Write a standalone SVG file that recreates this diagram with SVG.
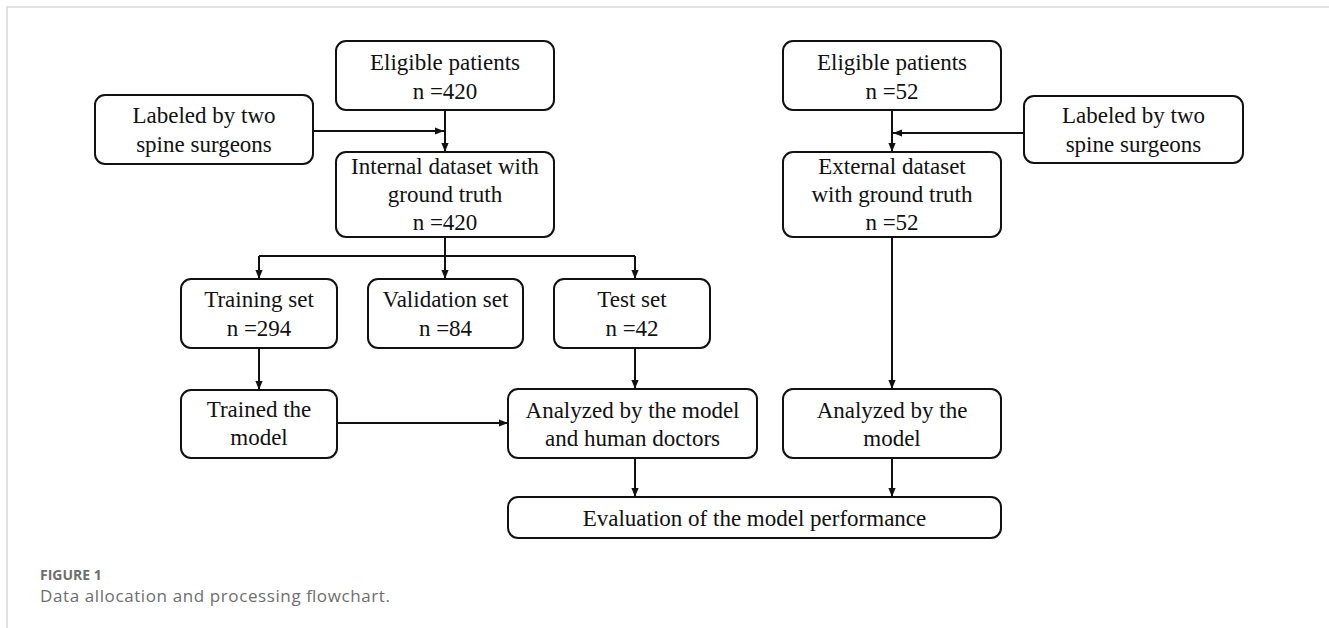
<svg xmlns="http://www.w3.org/2000/svg" width="1329" height="628" viewBox="0 0 1329 628">
<style>
.box{fill:#fff;stroke:#111;stroke-width:2}
.t{font-family:"Liberation Serif","Times New Roman",serif;font-size:23px;fill:#111;text-anchor:middle}
.c{fill:none;stroke:#111;stroke-width:2}
.frame{fill:none;stroke:#d9d9d9;stroke-width:1.5}
.cap1{font-family:"Open Sans","Noto Sans",sans-serif;font-size:14px;font-weight:bold;fill:#6e6e6e}
.cap2{font-family:"Open Sans","Noto Sans",sans-serif;font-size:17px;fill:#6e6e6e}
</style>
<defs>
<marker id="ah" viewBox="0 0 10 8" markerUnits="userSpaceOnUse" markerWidth="9" markerHeight="8" refX="10" refY="4" orient="auto">
<path d="M0,0 L10,4 L0,8 z" fill="#111"/>
</marker>
</defs>
<rect width="1329" height="628" fill="#fff"/>
<path class="frame" d="M7,628 V7 H1329"/>

<g id="eligible-int">
<rect class="box" x="336" y="41" width="218" height="69" rx="10"/>
<text class="t" x="445" y="70">Eligible patients</text>
<text class="t" x="445" y="99">n =420</text>
</g>
<g id="labeled-int">
<rect class="box" x="95" y="95" width="218" height="69" rx="10"/>
<text class="t" x="204" y="123">Labeled by two</text>
<text class="t" x="204" y="152">spine surgeons</text>
</g>
<g id="internal">
<rect class="box" x="336" y="152" width="218" height="85" rx="10"/>
<text class="t" x="445" y="174">Internal dataset with</text>
<text class="t" x="445" y="202">ground truth</text>
<text class="t" x="445" y="230">n =420</text>
</g>
<g id="training">
<rect class="box" x="181" y="279" width="156" height="69" rx="10"/>
<text class="t" x="259" y="307">Training set</text>
<text class="t" x="259" y="336">n =294</text>
</g>
<g id="validation">
<rect class="box" x="368" y="279" width="155" height="69" rx="10"/>
<text class="t" x="445.5" y="307">Validation set</text>
<text class="t" x="445.5" y="336">n =84</text>
</g>
<g id="test">
<rect class="box" x="554" y="279" width="156" height="69" rx="10"/>
<text class="t" x="632" y="307">Test set</text>
<text class="t" x="632" y="336">n =42</text>
</g>
<g id="trained">
<rect class="box" x="181" y="390" width="156" height="68" rx="10"/>
<text class="t" x="259" y="417">Trained the</text>
<text class="t" x="259" y="445">model</text>
</g>
<g id="analyzed-int">
<rect class="box" x="508" y="389" width="249" height="69" rx="10"/>
<text class="t" x="632.5" y="418">Analyzed by the model</text>
<text class="t" x="632.5" y="446">and human doctors</text>
</g>
<g id="eligible-ext">
<rect class="box" x="783" y="41" width="218" height="69" rx="10"/>
<text class="t" x="892" y="70">Eligible patients</text>
<text class="t" x="892" y="99">n =52</text>
</g>
<g id="labeled-ext">
<rect class="box" x="1024" y="96" width="219" height="67" rx="10"/>
<text class="t" x="1133.5" y="123">Labeled by two</text>
<text class="t" x="1133.5" y="152">spine surgeons</text>
</g>
<g id="external">
<rect class="box" x="783" y="152" width="218" height="85" rx="10"/>
<text class="t" x="892" y="174">External dataset</text>
<text class="t" x="892" y="202">with ground truth</text>
<text class="t" x="892" y="230">n =52</text>
</g>
<g id="analyzed-ext">
<rect class="box" x="783" y="389" width="218" height="69" rx="10"/>
<text class="t" x="892" y="418">Analyzed by the</text>
<text class="t" x="892" y="446">model</text>
</g>
<g id="evaluation">
<rect class="box" x="508" y="497" width="493" height="41" rx="10"/>
<text class="t" x="754.5" y="526">Evaluation of the model performance</text>
</g>

<g id="connectors">
<path class="c" d="M445,110 V152" marker-end="url(#ah)"/>
<path class="c" d="M313,131 H444" marker-end="url(#ah)"/>
<path class="c" d="M445,237 V256"/>
<path class="c" d="M259,256 H635"/>
<path class="c" d="M259,256 V279" marker-end="url(#ah)"/>
<path class="c" d="M445,256 V279" marker-end="url(#ah)"/>
<path class="c" d="M635,256 V279" marker-end="url(#ah)"/>
<path class="c" d="M259,348 V390" marker-end="url(#ah)"/>
<path class="c" d="M635,348 V389" marker-end="url(#ah)"/>
<path class="c" d="M337,423 H508" marker-end="url(#ah)"/>
<path class="c" d="M892,110 V152" marker-end="url(#ah)"/>
<path class="c" d="M1024,133 H893" marker-end="url(#ah)"/>
<path class="c" d="M892,237 V389" marker-end="url(#ah)"/>
<path class="c" d="M635,458 V497" marker-end="url(#ah)"/>
<path class="c" d="M892,458 V497" marker-end="url(#ah)"/>
</g>

<g id="caption">
<text class="cap1" x="40" y="580">FIGURE 1</text>
<text class="cap2" x="40" y="602" textLength="350" lengthAdjust="spacing">Data allocation and processing flowchart.</text>
</g>
</svg>
